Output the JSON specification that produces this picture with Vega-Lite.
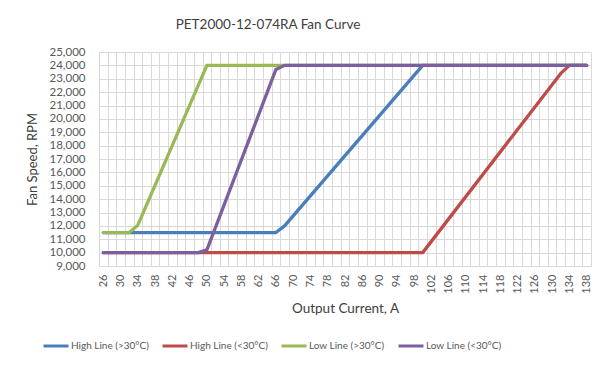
{
  "$schema": "https://vega.github.io/schema/vega-lite/v6.json",
  "autosize": "none",
  "width": 492,
  "height": 214,
  "padding": {"left": 99, "top": 52, "right": 14, "bottom": 100},
  "background": "white",
  "config": {
    "font": "Lato",
    "view": {"stroke": null},
    "axis": {"labelColor": "#595959", "titleColor": "#404040", "titleFontWeight": "normal", "gridColor": "#d9d9d9", "gridWidth": 1, "domain": false, "ticks": false}
  },
  "title": {"text": "PET2000-12-074RA Fan Curve", "fontSize": 13.5, "fontWeight": "normal", "color": "#404040", "anchor": "middle", "frame": "group", "dx": -77, "offset": 15},
  "resolve": {"axis": {"x": "independent"}},
  "data": {"values": [
    {"s": "High Line (>30°C)", "a": 26, "rpm": 11500},
    {"s": "High Line (>30°C)", "a": 66, "rpm": 11500},
    {"s": "High Line (>30°C)", "a": 68, "rpm": 12000},
    {"s": "High Line (>30°C)", "a": 100, "rpm": 24000},
    {"s": "High Line (>30°C)", "a": 138, "rpm": 24000},
    {"s": "High Line (<30°C)", "a": 26, "rpm": 10000},
    {"s": "High Line (<30°C)", "a": 100, "rpm": 10000},
    {"s": "High Line (<30°C)", "a": 132, "rpm": 23400},
    {"s": "High Line (<30°C)", "a": 134, "rpm": 24000},
    {"s": "High Line (<30°C)", "a": 138, "rpm": 24000},
    {"s": "Low Line (>30°C)", "a": 26, "rpm": 11500},
    {"s": "Low Line (>30°C)", "a": 32, "rpm": 11500},
    {"s": "Low Line (>30°C)", "a": 34, "rpm": 12050},
    {"s": "Low Line (>30°C)", "a": 50, "rpm": 24000},
    {"s": "Low Line (>30°C)", "a": 138, "rpm": 24000},
    {"s": "Low Line (<30°C)", "a": 26, "rpm": 10000},
    {"s": "Low Line (<30°C)", "a": 48, "rpm": 10000},
    {"s": "Low Line (<30°C)", "a": 50, "rpm": 10200},
    {"s": "Low Line (<30°C)", "a": 66, "rpm": 23700},
    {"s": "Low Line (<30°C)", "a": 68, "rpm": 24000},
    {"s": "Low Line (<30°C)", "a": 138, "rpm": 24000}
  ]},
  "layer": [
    {
      "mark": {"type": "rule", "opacity": 0},
      "encoding": {
        "x": {"field": "a", "type": "quantitative", "scale": {"domain": [25, 139], "nice": false, "zero": false},
          "axis": {"orient": "top", "values": [25,27,29,31,33,35,37,39,41,43,45,47,49,51,53,55,57,59,61,63,65,67,69,71,73,75,77,79,81,83,85,87,89,91,93,95,97,99,101,103,105,107,109,111,113,115,117,119,121,123,125,127,129,131,133,135,137,139], "labels": false, "title": null, "grid": true}}
      }
    },
    {
      "mark": {"type": "line", "strokeWidth": 3.3, "strokeJoin": "round", "strokeCap": "round"},
      "encoding": {
        "x": {"field": "a", "type": "quantitative",
          "axis": {"orient": "bottom", "values": [26,30,34,38,42,46,50,54,58,62,66,70,74,78,82,86,90,94,98,102,106,110,114,118,122,126,130,134,138], "grid": false, "labelAngle": -90, "labelFontSize": 11, "labelPadding": 8, "labelOverlap": false, "title": "Output Current, A", "titleFontSize": 13.5, "titlePadding": 8}},
        "y": {"field": "rpm", "type": "quantitative", "scale": {"domain": [9000, 25000], "nice": false, "zero": false},
          "axis": {"values": [9000,10000,11000,12000,13000,14000,15000,16000,17000,18000,19000,20000,21000,22000,23000,24000,25000], "format": ",.0f", "labelFontSize": 11.5, "labelPadding": 14, "title": "Fan Speed, RPM", "titleFontSize": 13, "titlePadding": 10, "grid": true}},
        "color": {"field": "s", "type": "nominal",
          "scale": {"domain": ["High Line (>30°C)", "High Line (<30°C)", "Low Line (>30°C)", "Low Line (<30°C)"], "range": ["#4a7ebb", "#be4b48", "#98b954", "#7d5fa0"]},
          "legend": {"title": null, "orient": "none", "direction": "horizontal", "legendX": -57, "legendY": 280, "symbolType": "stroke", "symbolSize": 625, "symbolStrokeWidth": 3, "labelFontSize": 10, "labelColor": "#595959", "labelOffset": 1, "columnPadding": 7}},
        "order": {"field": "a", "type": "quantitative"}
      }
    }
  ]
}
